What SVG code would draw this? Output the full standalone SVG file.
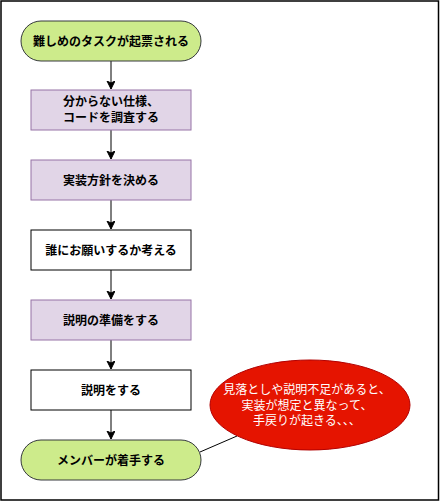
<svg xmlns="http://www.w3.org/2000/svg" width="441" height="502" viewBox="0 0 441 502">
<style>
text{font-family:"Noto Sans CJK JP","Liberation Sans",sans-serif;font-size:12px;text-anchor:middle}
.b{font-weight:bold;fill:#000}
.term{fill:#cdeb8b;stroke:#36393d;stroke-width:1}
.purp{fill:#e1d5e7;stroke:#9673a6;stroke-width:1}
.plain{fill:#fff;stroke:#000;stroke-width:1}
.conn{stroke:#000;stroke-width:1;fill:none}
</style>
<defs>
<marker id="arr" markerWidth="10" markerHeight="10" refX="8" refY="4" orient="auto" markerUnits="userSpaceOnUse">
<path d="M0,0 L8,4 L0,8 L2,4 Z" fill="#000" stroke="#000" stroke-width="1"/>
</marker>
</defs>
<rect x="1" y="1" width="437.5" height="499" fill="#fff" stroke="#000" stroke-width="1.5"/>
<g id="connectors">
<line class="conn" x1="111" y1="61" x2="111" y2="89" marker-end="url(#arr)"/>
<line class="conn" x1="111" y1="130" x2="111" y2="159" marker-end="url(#arr)"/>
<line class="conn" x1="111" y1="200" x2="111" y2="229" marker-end="url(#arr)"/>
<line class="conn" x1="111" y1="270" x2="111" y2="299" marker-end="url(#arr)"/>
<line class="conn" x1="111" y1="340" x2="111" y2="369" marker-end="url(#arr)"/>
<line class="conn" x1="111" y1="410" x2="111" y2="439" marker-end="url(#arr)"/>
<line class="conn" x1="200" y1="452" x2="237" y2="436"/>
</g>
<g id="start">
<rect class="term" x="21" y="21" width="180" height="40" rx="20" ry="20"/>
<text class="b" x="111" y="45.5">難しめのタスクが起票される</text>
</g>
<g id="investigate">
<rect class="purp" x="31" y="90" width="160" height="40"/>
<text class="b" x="111" y="106">分からない仕様、</text>
<text class="b" x="111" y="122">コードを調査する</text>
</g>
<g id="policy">
<rect class="purp" x="31" y="160" width="160" height="40"/>
<text class="b" x="111" y="184.5">実装方針を決める</text>
</g>
<g id="whom">
<rect class="plain" x="31" y="230" width="160" height="40"/>
<text class="b" x="111" y="254.5">誰にお願いするか考える</text>
</g>
<g id="prepare">
<rect class="purp" x="31" y="300" width="160" height="40"/>
<text class="b" x="111" y="324.5">説明の準備をする</text>
</g>
<g id="explain">
<rect class="plain" x="31" y="370" width="160" height="40"/>
<text class="b" x="111" y="394.5">説明をする</text>
</g>
<g id="end">
<rect class="term" x="21" y="440" width="180" height="40" rx="20" ry="20"/>
<text class="b" x="111" y="464.5">メンバーが着手する</text>
</g>
<g id="note">
<ellipse cx="310" cy="405" rx="100" ry="45" fill="#e51400" stroke="#b20000" stroke-width="1"/>
<text x="307" y="393.5" fill="#fff">見落としや説明不足があると、</text>
<text x="307" y="409.5" fill="#fff">実装が想定と異なって、</text>
<text x="307" y="425" fill="#fff">手戻りが起きる、、、</text>
</g>
</svg>
